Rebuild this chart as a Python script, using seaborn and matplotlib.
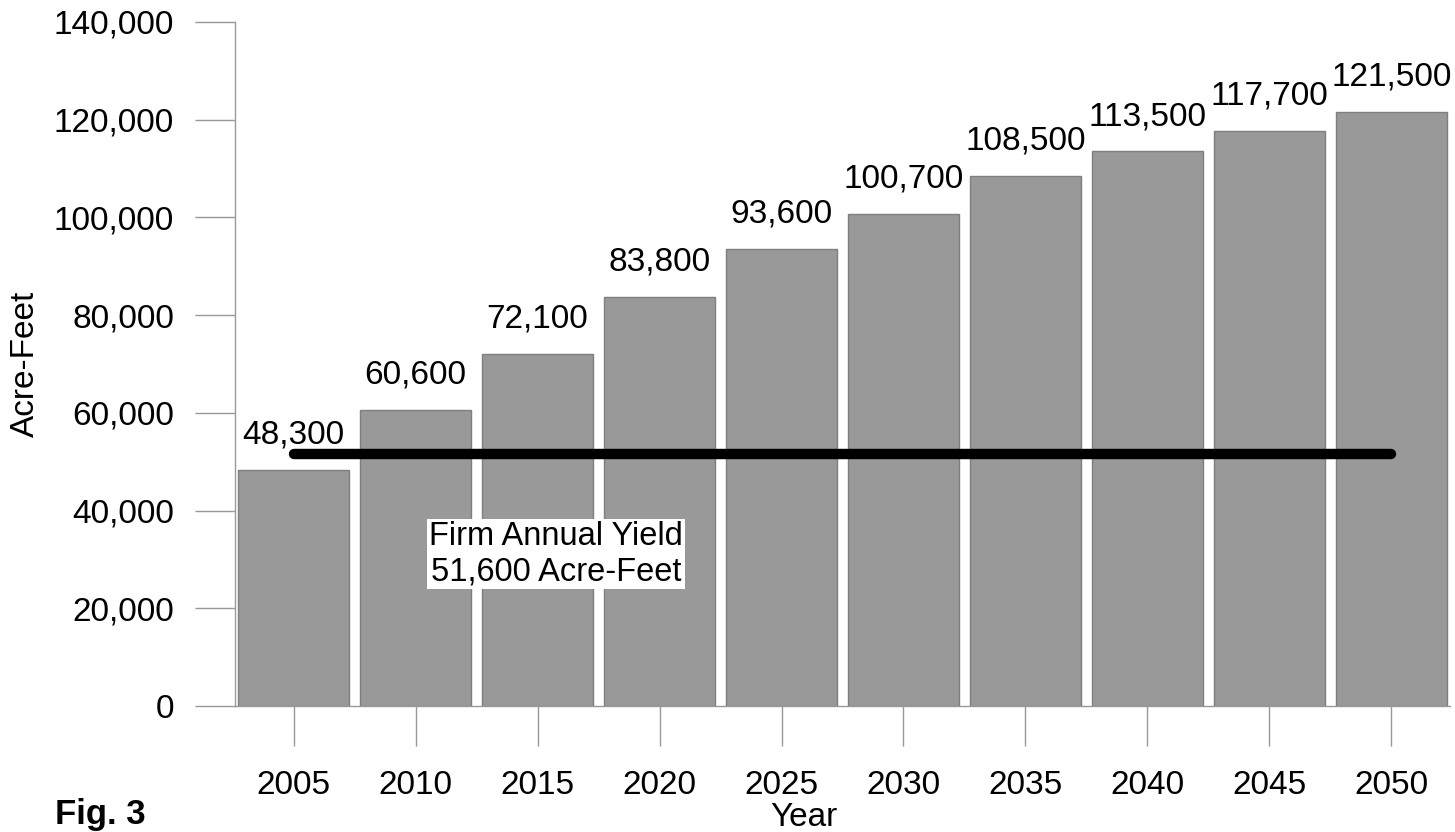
import matplotlib
matplotlib.use("Agg")
import matplotlib.pyplot as plt
import seaborn as sns
import pandas as pd

years = ["2005", "2010", "2015", "2020", "2025", "2030", "2035", "2040", "2045", "2050"]
demand = [48300, 60600, 72100, 83800, 93600, 100700, 108500, 113500, 117700, 121500]
firm_yield = 51600
yield_label = "Firm Annual Yield\n51,600 Acre-Feet"
y_ticks = [0, 20000, 40000, 60000, 80000, 100000, 120000, 140000]

sns.set_theme(style="white")
plt.rcParams["font.family"] = ["Liberation Sans", "DejaVu Sans"]

df = pd.DataFrame({"Year": years, "AcreFeet": demand})

fig = plt.figure(figsize=(14.55, 8.32), dpi=100)
ax = fig.add_axes([235 / 1455, 1 - 706 / 832, (1450 - 235) / 1455, (706 - 22) / 832])

sns.barplot(data=df, x="Year", y="AcreFeet", ax=ax, color="#999999",
            saturation=1, width=0.91, edgecolor="#7f7f7f", linewidth=1)

ax.set_xlim(-0.48, 9.48)
ax.set_ylim(0, 140000)
ax.set_yticks(y_ticks)
ax.set_yticklabels([f"{v:,}" for v in y_ticks])

for i, v in enumerate(demand):
    ax.annotate(f"{v:,}", (i, v), xytext=(0, 19), textcoords="offset points",
                ha="center", va="baseline", fontsize=24, color="black")

ax.plot([0, len(years) - 1], [firm_yield, firm_yield], color="black",
        linewidth=7.5, solid_capstyle="round", zorder=5)

ax.text(2.15, 31100, yield_label, ha="center", va="center", fontsize=23.5,
        linespacing=1.2, color="black",
        bbox=dict(facecolor="white", edgecolor="none", pad=1.5), zorder=6)

for side in ["top", "right"]:
    ax.spines[side].set_visible(False)
for side in ["left", "bottom"]:
    ax.spines[side].set_color("#999999")
    ax.spines[side].set_linewidth(1)

ax.tick_params(axis="both", which="major", direction="out", length=29,
               width=1, color="#999999", labelsize=24, labelcolor="black",
               bottom=True, left=True)
ax.tick_params(axis="y", pad=15)
ax.tick_params(axis="x", pad=17)

ax.set_xlabel("Year", fontsize=24, color="black")
ax.xaxis.set_label_coords((804 - 235) / (1450 - 235), -(818 - 706) / (706 - 22))
ax.xaxis.label.set_va("center")
ax.set_ylabel("Acre-Feet", fontsize=24, color="black")
ax.yaxis.set_label_coords(-(235 - 25) / (1450 - 235), 0.5)
ax.yaxis.label.set_va("center")

fig.text(55 / 1455, 1 - 824 / 832, "Fig. 3", fontsize=25, fontweight="bold",
         ha="left", va="baseline", color="black")

fig.savefig("out.png", dpi=100)
